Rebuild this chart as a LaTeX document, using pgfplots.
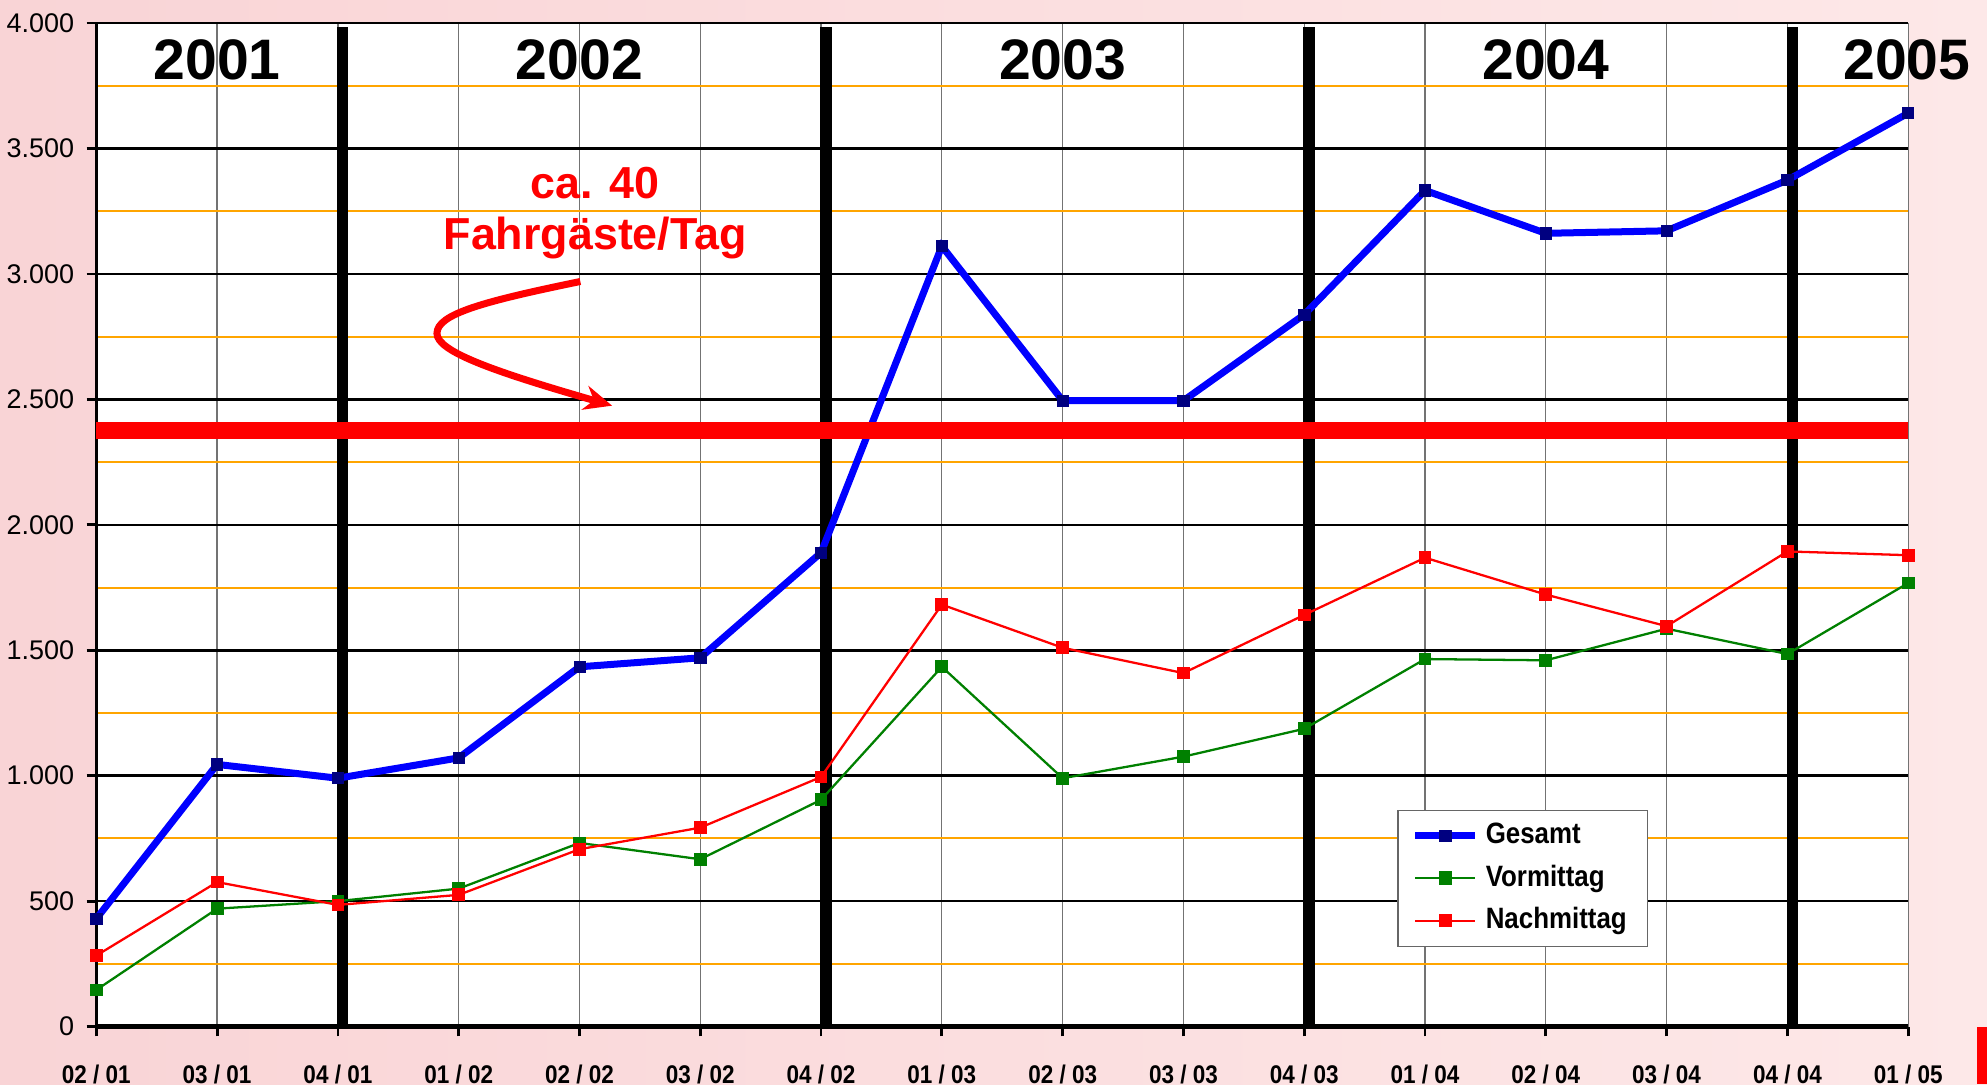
\documentclass[border=0pt]{standalone}
\usepackage{fontspec}
\setmainfont{Liberation Sans}
\newfontfamily\narrowfont[FakeStretch=0.88]{Liberation Sans}
\usepackage{pgfplots}
\usepackage{pgfplotstable}
\pgfplotsset{compat=1.18}
\usetikzlibrary{arrows.meta}

\definecolor{bgpinkL}{RGB}{249,212,214}
\definecolor{bgpinkR}{RGB}{253,232,232}
\definecolor{gesamtline}{RGB}{0,0,255}
\definecolor{gesamtmark}{RGB}{0,0,128}
\definecolor{vmgreen}{RGB}{0,128,0}
\definecolor{nmred}{RGB}{255,0,0}
\definecolor{gridorange}{RGB}{255,165,0}

% quarter index, Gesamt, Vormittag, Nachmittag
\pgfplotstableread{
x gesamt vormittag nachmittag
0  430  146  283
1  1045 470  576
2  990  500  485
3  1071 550  525
4  1434 732  707
5  1470 667  793
6  1889 904  995
7  3111 1434 1682
8  2495 990  1510
9  2495 1076 1409
10 2838 1187 1641
11 3333 1465 1869
12 3162 1460 1722
13 3172 1586 1596
14 3374 1485 1894
15 3641 1768 1879
}\datatable

\begin{document}
\begin{tikzpicture}
% page background
\path[use as bounding box, left color=bgpinkL, right color=bgpinkR]
  (-27.5pt,-16.4pt) rectangle ++(567.3pt,309.5pt);
\fill[nmred] (537pt,-16.4pt) rectangle (540pt,0pt);

\begin{axis}[
    scale only axis,
    width=517.3pt, height=286.5pt,
    xmin=0, xmax=15, ymin=0, ymax=4000,
    clip=false,
    axis background/.style={fill=white},
    axis lines*=left,
    x axis line style={line width=1.2pt},
    y axis line style={line width=0.9pt},
    xtick={0,...,15},
    xticklabels={02 / 01,03 / 01,04 / 01,01 / 02,02 / 02,03 / 02,04 / 02,01 / 03,
                 02 / 03,03 / 03,04 / 03,01 / 04,02 / 04,03 / 04,04 / 04,01 / 05},
    ytick={0,500,...,4000},
    minor y tick num=1,
    tick align=outside,
    major tick length=2.8pt,
    minor tick length=0pt,
    tick style={black, line width=0.8pt},
    xmajorgrids, ymajorgrids, yminorgrids,
    major x grid style={black!55, line width=0.35pt},
    major y grid style={black, line width=0.7pt},
    minor y grid style={gridorange, line width=0.6pt},
    /pgf/number format/1000 sep={.},
    /pgf/number format/assume math mode=true,
    yticklabel style={font=\fontsize{7.7}{9}\selectfont},
    xticklabel style={font=\narrowfont\bfseries\fontsize{7.3}{9}\selectfont, yshift=-4.5pt},
    legend style={at={(0.718,0.216)}, anchor=north west, draw=black!60, fill=white,
      font=\narrowfont\bfseries\fontsize{8.4}{9}\selectfont,
      row sep=0.6pt, inner xsep=4pt, inner ysep=1.5pt},
    legend cell align=left,
    legend image post style={mark size=1.6pt},
]
% year separators
\addplot[black, line width=3.2pt, forget plot] coordinates {(2.04,0) (2.04,3985)};
\addplot[black, line width=3.2pt, forget plot] coordinates {(6.04,0) (6.04,3985)};
\addplot[black, line width=3.2pt, forget plot] coordinates {(10.04,0) (10.04,3985)};
\addplot[black, line width=3.2pt, forget plot] coordinates {(14.04,0) (14.04,3985)};

\addplot[gesamtline, line width=2pt, mark=square*, mark size=1.6pt,
  mark options={fill=gesamtmark, draw=gesamtmark, line width=0.2pt}]
  table[x=x, y=gesamt] {\datatable};
\addplot[vmgreen, line width=0.65pt, mark=square*, mark size=1.5pt,
  mark options={fill=vmgreen, draw=vmgreen}]
  table[x=x, y=vormittag] {\datatable};
\addplot[nmred, line width=0.65pt, mark=square*, mark size=1.5pt,
  mark options={fill=nmred, draw=nmred}]
  table[x=x, y=nachmittag] {\datatable};
\legend{Gesamt, Vormittag, Nachmittag}

% target line
\addplot[nmred, line width=4.8pt, forget plot] coordinates {(0,2375) (15,2375)};

% year labels
\node[font=\bfseries\fontsize{16.3}{18}\selectfont] at (axis cs:1,3853) {2001};
\node[font=\bfseries\fontsize{16.3}{18}\selectfont] at (axis cs:4,3853) {2002};
\node[font=\bfseries\fontsize{16.3}{18}\selectfont] at (axis cs:8,3853) {2003};
\node[font=\bfseries\fontsize{16.3}{18}\selectfont] at (axis cs:12,3853) {2004};
\node[font=\bfseries\fontsize{16.3}{18}\selectfont] at (axis cs:14.99,3853) {2005};

% annotation
\node[nmred, font=\bfseries\fontsize{12.8}{14.5}\selectfont, align=center]
  at (axis cs:4.13,3242) {ca. 40\\Fahrgäste/Tag};
\draw[nmred, line width=2pt, -{Stealth[length=8pt,width=7pt]}]
  (axis cs:4.007,2970) .. controls (axis cs:3.2,2890) and (axis cs:2.82,2840)
  .. (axis cs:2.82,2763) .. controls (axis cs:2.82,2690) and (axis cs:3.3,2610)
  .. (axis cs:4.27,2475);
\end{axis}
\end{tikzpicture}
\end{document}
